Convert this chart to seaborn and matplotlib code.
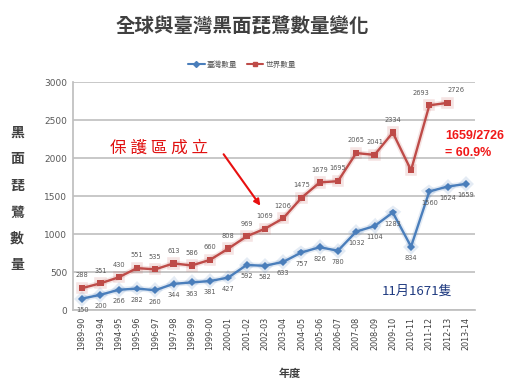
import matplotlib
matplotlib.use("Agg")
import matplotlib.pyplot as plt
import matplotlib.patheffects as pe
from matplotlib.lines import Line2D
import seaborn as sns
import pandas as pd

# Census seasons
seasons = ["1989-90", "1993-94", "1994-95", "1995-96", "1996-97", "1997-98",
           "1998-99", "1999-00", "2000-01", "2001-02", "2002-03", "2003-04",
           "2004-05", "2005-06", "2006-07", "2007-08", "2008-09", "2009-10",
           "2010-11", "2011-12", "2012-13", "2013-14"]

# Taiwan counts (all seasons)
taiwan = [150, 200, 266, 282, 260, 344, 363, 381, 427, 592, 582, 633,
          757, 826, 780, 1032, 1104, 1283, 834, 1560, 1624, 1659]

# World counts (up to 2012-13)
world = [288, 351, 430, 551, 535, 613, 586, 660, 808, 969, 1069, 1206,
         1475, 1679, 1695, 2065, 2041, 2334, 1839, 2693, 2726]

series_names = ["臺灣數量", "世界數量"]
yticks = [0, 500, 1000, 1500, 2000, 2500, 3000]

df = pd.concat([
    pd.DataFrame({"x": range(len(taiwan)), "count": taiwan, "series": series_names[0]}),
    pd.DataFrame({"x": range(len(world)), "count": world, "series": series_names[1]}),
], ignore_index=True)

sns.set_theme(style="white")
plt.rcParams["font.family"] = ["Noto Sans CJK TC", "DejaVu Sans"]

W, H = 508, 387
fig = plt.figure(figsize=(W / 100, H / 100), dpi=100)
ax = fig.add_axes([73 / W, 1 - 310 / H, (475 - 73) / W, (310 - 82) / H])

blue = "#4A7EBB"
red = "#BE4B48"
palette = {series_names[0]: blue, series_names[1]: red}
markers = {series_names[0]: "D", series_names[1]: "s"}

sns.lineplot(data=df, x="x", y="count", hue="series", style="series",
             palette=palette, markers=markers, dashes=False, markersize=4.5,
             markeredgewidth=0, linewidth=1.7, ax=ax, legend=False)

# soft glow along each line
for line, col in zip(ax.get_lines(), [blue, red]):
    line.set_path_effects([pe.Stroke(linewidth=4, foreground=col, alpha=0.15),
                           pe.Normal()])
ax.get_lines()[0].set_markersize(4)

# value labels
for i, v in enumerate(world):
    if i == 18:
        continue
    dx = -6 if i == 19 else (6 if i == 20 else 0)
    ax.annotate(str(v), (i, v), xytext=(dx, 7), textcoords="offset points",
                ha="center", va="bottom", fontsize=4.8, color="#595959",
                family="DejaVu Sans")
for i, v in enumerate(taiwan):
    ax.annotate(str(v), (i, v), xytext=(0, -6), textcoords="offset points",
                ha="center", va="top", fontsize=4.8, color="#595959",
                family="DejaVu Sans")

ax.set_xlim(-0.5, len(seasons) - 0.5)
ax.set_ylim(0, 3000)
ax.set_yticks(yticks)
ax.set_yticklabels([str(t) for t in yticks], fontsize=6.5, color="#595959",
                   family="DejaVu Sans")
ax.set_xticks(range(len(seasons)))
ax.set_xticklabels(seasons, rotation=90, fontsize=5.8, color="#404040",
                   family="DejaVu Sans")
ax.grid(axis="y", color="#C8C8C8", linewidth=1.4)
ax.grid(axis="x", visible=False)
ax.set_axisbelow(True)
for s in ["top", "right"]:
    ax.spines[s].set_visible(False)
ax.spines["left"].set_color("#BFBFBF")
ax.spines["bottom"].set_color("#BFBFBF")
ax.tick_params(axis="x", length=3, color="#BFBFBF", pad=2)
ax.tick_params(axis="y", length=0, pad=4)
ax.set_xlabel("")
ax.set_ylabel("")

# title
fig.text(242 / W, 1 - 27 / H, "全球與臺灣黑面琵鷺數量變化", ha="center", va="center",
         fontsize=14, fontweight="bold", color="#404040")

# legend
handles = [Line2D([], [], color=blue, marker="D", markersize=3, linewidth=1.5),
           Line2D([], [], color=red, marker="s", markersize=3, linewidth=1.5)]
fig.legend(handles, series_names, loc="center", bbox_to_anchor=(242 / W, 1 - 65 / H),
           ncol=2, frameon=False, fontsize=5.5, handlelength=2.2, columnspacing=1.2,
           handletextpad=0.3, labelcolor="#595959")

# axis titles
for k, ch in enumerate("黑面琵鷺數量"):
    fig.text(17 / W, 1 - (133 + 26.5 * k) / H, ch, ha="center", va="center",
             fontsize=10, fontweight="bold", color="#404040")
fig.text(290 / W, 1 - 373 / H, "年度", ha="center", va="center",
         fontsize=8, fontweight="bold", color="#404040")

# annotations
fig.text(159 / W, 1 - 148 / H, "保 護 區 成 立", ha="center", va="center",
         fontsize=12, color="#E01010", fontweight="light")
ax.annotate("", xy=(262 / W, 1 - 208 / H), xycoords="figure fraction",
            xytext=(222 / W, 1 - 152 / H), textcoords="figure fraction",
            arrowprops=dict(arrowstyle="-|>", color="#E81010", lw=1.5,
                            mutation_scale=9))
fig.text(445 / W, 1 - 136 / H, "1659/2726", ha="left", va="center",
         fontsize=9, fontweight="bold", color="#F01818", family="Liberation Sans")
fig.text(445 / W, 1 - 153 / H, "= 60.9%", ha="left", va="center",
         fontsize=9, fontweight="bold", color="#F01818", family="Liberation Sans")
fig.text(382 / W, 1 - 291 / H, "11月1671隻", ha="left", va="center",
         fontsize=9.5, color="#1F3A80")

fig.savefig("out.png", dpi=100)
